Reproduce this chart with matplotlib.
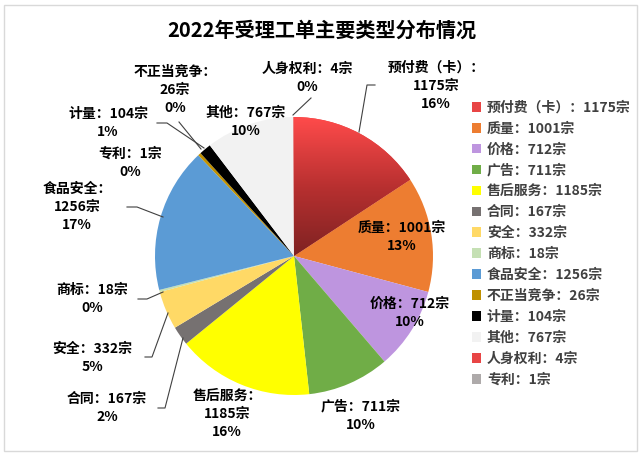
import numpy as np
import matplotlib
matplotlib.use("Agg")
import matplotlib.pyplot as plt
from matplotlib.lines import Line2D

plt.rcParams['font.family'] = ['Noto Sans CJK SC', 'DejaVu Sans']

# 数据
names = ["预付费（卡）", "质量", "价格", "广告", "售后服务", "合同", "安全", "商标",
         "食品安全", "不正当竞争", "计量", "其他", "人身权利", "专利"]
counts = [1175, 1001, 712, 711, 1185, 167, 332, 18, 1256, 26, 104, 767, 4, 1]
pcts = [16, 13, 10, 10, 16, 2, 5, 0, 17, 0, 1, 10, 0, 0]
colors = ["#E84545", "#ED7D31", "#BE95DF", "#70AD47", "#FFFF00", "#767171", "#FFD966",
          "#C5E0B4", "#5B9BD5", "#BF9000", "#000000", "#F2F2F2", "#E84545", "#AEAAAA"]
title = "2022年受理工单主要类型分布情况"

W, H = 644, 458


def px(x, y):
    # 像素坐标 -> 数据坐标
    return x, H - y


# 标签位置（像素），是否拆成三行
label_layout = {
    "预付费（卡）": ((436, 86), True),
    "质量": ((402, 237), False),
    "价格": ((410, 313), False),
    "广告": ((361, 416), False),
    "售后服务": ((227, 414), True),
    "合同": ((107, 408), False),
    "安全": ((92, 358), False),
    "商标": ((92, 299), False),
    "食品安全": ((77, 207), True),
    "不正当竞争": ((175, 90), True),
    "计量": ((108, 123), False),
    "其他": ((246, 122), False),
    "人身权利": ((307, 78), False),
    "专利": ((130, 163), False),
}

# 引导线（像素）
leader_lines = [
    [(293, 115), (311, 98)],
    [(359, 132), (367, 85), (375, 85)],
    [(179, 122), (201, 149)],
    [(157, 123), (167, 123), (204, 148)],
    [(127, 207), (137, 207), (163, 217)],
    [(138, 299), (147, 299), (163, 292)],
    [(145, 357), (152, 357), (168, 313)],
    [(158, 408), (165, 408), (183, 338)],
]

fig = plt.figure(figsize=(W / 100, H / 100), dpi=100)
ax = fig.add_axes([0, 0, 1, 1])

cx, cy = px(294, 256)
r = 139
wedges, _ = ax.pie(counts, colors=colors, startangle=90, counterclock=False,
                   center=(cx, cy), radius=r, wedgeprops=dict(linewidth=0))
ax.set_xlim(0, W)
ax.set_ylim(0, H)
ax.set_aspect('auto')
ax.axis('off')

# 红色扇区的渐变
grad = np.linspace(0, 1, 256).reshape(-1, 1)
cmap = matplotlib.colors.LinearSegmentedColormap.from_list("red", ["#7E2222", "#B83030", "#FF4B4B"])
for i in (0, 12):
    im = ax.imshow(grad, cmap=cmap, origin='lower', aspect='auto',
                   extent=(cx - r, cx + r, cy, cy + r), zorder=wedges[i].get_zorder() + 0.1)
    im.set_clip_path(wedges[i])
ax.set_xlim(0, W)
ax.set_ylim(0, H)

# 数据标签
for name, cnt, p in zip(names, counts, pcts):
    (lx, ly), three = label_layout[name]
    if three:
        txt = f"{name}：\n{cnt}宗\n{p}%"
    else:
        txt = f"{name}：{cnt}宗\n{p}%"
    x, y = px(lx, ly)
    ax.text(x, y, txt, ha='center', va='center', fontsize=10, fontweight='bold',
            color='black', linespacing=1.4)

for pts in leader_lines:
    xs = [p[0] for p in pts]
    ys = [H - p[1] for p in pts]
    ax.add_line(Line2D(xs, ys, color='#404040', lw=0.8))

# 标题
tx, ty = px(322, 30)
ax.text(tx, ty, title, ha='center', va='center', fontsize=14.5, fontweight='bold')

# 图例
legend_labels = [f"{n}：{c}宗" for n, c in zip(names, counts)]
leg = ax.legend(wedges, legend_labels, loc='upper left',
                bbox_to_anchor=(466 / W, (H - 95) / H), bbox_transform=fig.transFigure,
                frameon=False, fontsize=10, handlelength=0.7, handleheight=0.7,
                handletextpad=0.4, labelspacing=0.5, borderaxespad=0)
for t in leg.get_texts():
    t.set_color('#404040')
    t.set_fontweight('bold')

# 边框
border = plt.Rectangle(px(4, 451), 633, 446, fill=False, edgecolor='#D9D9D9', lw=1)
ax.add_patch(border)

fig.savefig("out.png", dpi=100)
